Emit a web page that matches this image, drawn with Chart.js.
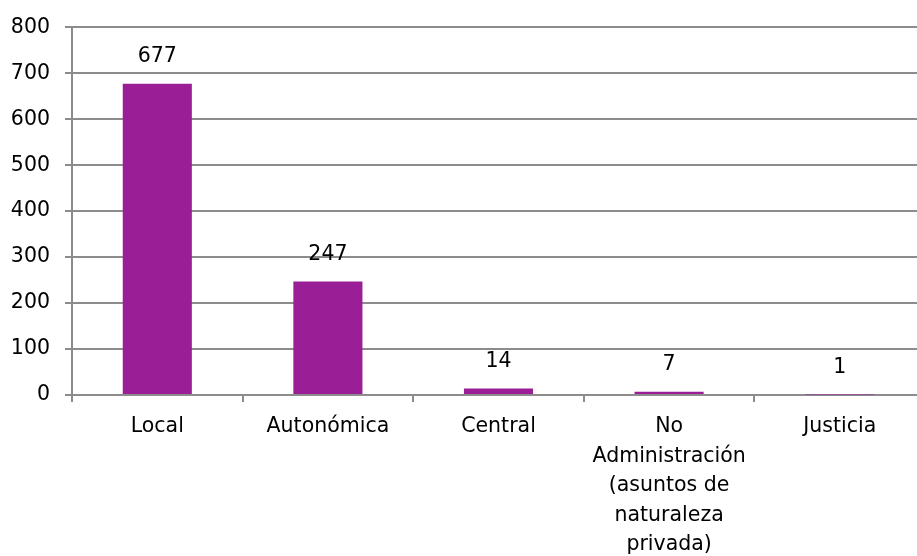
<!DOCTYPE html>
<html>
<head>
<meta charset="utf-8">
<script src="https://cdn.jsdelivr.net/npm/chart.js@4"></script>
<style>
    html, body { margin: 0; padding: 0; background: #fff; overflow: hidden; }
    #wrap { width: 925px; height: 556px; }
</style>
</head>
<body>
<div id="wrap"><canvas id="chart" width="925" height="556"></canvas></div>
<script>
// Chart data
const categories = [
    'Local',
    'Autonómica',
    'Central',
    ['No', 'Administración', '(asuntos de', 'naturaleza', 'privada)'],
    'Justicia'
];
const values = [677, 247, 14, 7, 1];
const yTicks = [0, 100, 200, 300, 400, 500, 600, 700, 800];

const gridGray = '#8c8c8c';
const barPurple = '#9a1e96';

// Draws the value above each bar
const valueLabels = {
    id: 'valueLabels',
    afterDatasetsDraw(chart) {
        const ctx = chart.ctx;
        const meta = chart.getDatasetMeta(0);
        ctx.save();
        ctx.font = '20.5px "DejaVu Sans"';
        ctx.fillStyle = '#000';
        ctx.textAlign = 'center';
        ctx.textBaseline = 'middle';
        meta.data.forEach((bar, i) => {
            ctx.fillText(values[i], bar.x, bar.y - 27);
        });
        ctx.restore();
    }
};

const ctx = document.getElementById('chart').getContext('2d');
new Chart(ctx, {
    type: 'bar',
    data: {
        labels: categories,
        datasets: [{
            data: values,
            backgroundColor: barPurple,
            barPercentage: 0.405,
            categoryPercentage: 1.0
        }]
    },
    options: {
        responsive: false,
        animation: false,
        layout: { padding: { top: 25, left: 0, right: 0, bottom: 0 } },
        plugins: {
            legend: { display: false },
            tooltip: { enabled: false }
        },
        scales: {
            x: {
                afterFit: scale => { scale.height = 161; },
                grid: {
                    offset: true,
                    drawOnChartArea: false,
                    color: gridGray,
                    lineWidth: 2,
                    tickLength: 7
                },
                border: { color: gridGray, width: 2 },
                ticks: {
                    color: '#000',
                    padding: 10,
                    maxRotation: 0,
                    autoSkip: false,
                    font: { family: 'DejaVu Sans', size: 20.5, lineHeight: 1.44 }
                }
            },
            y: {
                min: 0,
                max: 800,
                afterFit: scale => { scale.width = 72; },
                afterBuildTicks: scale => { scale.ticks = yTicks.map(v => ({ value: v })); },
                grid: {
                    color: gridGray,
                    lineWidth: 2,
                    tickLength: 7
                },
                border: { color: gridGray, width: 2 },
                ticks: {
                    color: '#000',
                    padding: 15,
                    font: { family: 'DejaVu Sans', size: 20.5 }
                }
            }
        }
    },
    plugins: [valueLabels]
});
</script>
</body>
</html>
